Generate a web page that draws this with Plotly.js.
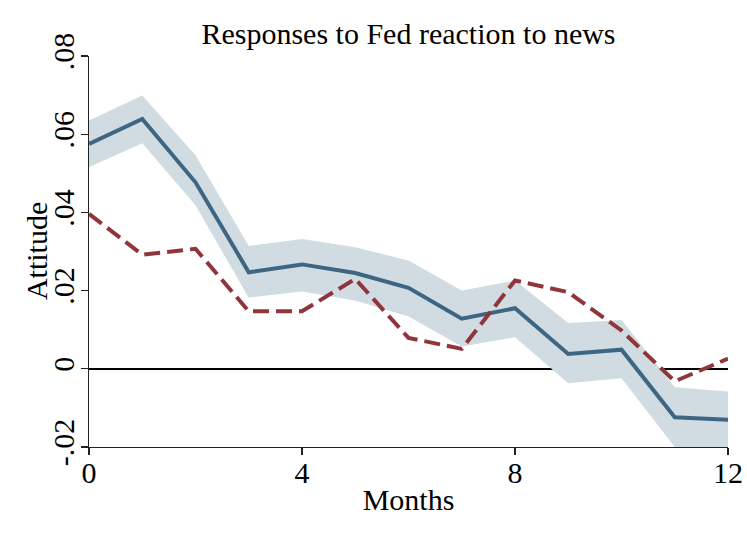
<!DOCTYPE html>
<html>
<head>
<meta charset="utf-8">
<script src="https://cdn.plot.ly/plotly-3.0.1.min.js"></script>
<style>html,body{margin:0;padding:0;background:#fff;}#chart{width:747px;height:544px;}</style>
</head>
<body>
<div id="chart"></div>
<script>
var months = [0,1,2,3,4,5,6,7,8,9,10,11,12];
var fedResponse = [0.0575,0.0639,0.0477,0.0247,0.0267,0.0245,0.0207,0.0128,0.0155,0.0038,0.0049,-0.0124,-0.0130];
var bandUpper = [0.0635,0.0699,0.0546,0.0314,0.0332,0.0311,0.0277,0.0200,0.0226,0.0117,0.0125,-0.0047,-0.0058];
var bandLower = [0.0516,0.0577,0.0418,0.0182,0.0198,0.0175,0.0134,0.0057,0.0081,-0.0037,-0.0024,-0.0200,-0.0202];
var otherResponse = [0.0396,0.0292,0.0307,0.0147,0.0147,0.0230,0.0079,0.0051,0.0226,0.0196,0.0098,-0.0032,0.0026];
var yTickVals = [-0.02,0,0.02,0.04,0.06,0.08];
var yTickText = ['-.02','0','.02','.04','.06','.08'];
var xTickVals = [0,4,8,12];

var font = 'Liberation Serif, Times New Roman, serif';
var fs = 30;
var traces = [
  {x: months, y: bandLower, mode:'lines', line:{width:0, color:'rgba(0,0,0,0)'}, hoverinfo:'skip', showlegend:false},
  {x: months, y: bandUpper, mode:'lines', line:{width:0, color:'rgba(0,0,0,0)'}, fill:'tonexty', fillcolor:'#D1DBE2', hoverinfo:'skip', showlegend:false},
  {x: months, y: fedResponse, mode:'lines', line:{width:4, color:'#3E6683'}, showlegend:false},
  {x: months, y: otherResponse, mode:'lines', line:{width:4, color:'#90353B', dash:'16px,7px'}, showlegend:false}
];
var layout = {
  width:747, height:544,
  margin:{l:88.5, r:18.7, t:55.7, b:97.3},
  paper_bgcolor:'#fff', plot_bgcolor:'#fff',
  font:{family:font, size:fs, color:'#000'},
  title:{text:'Responses to Fed reaction to news', font:{family:font, size:fs, color:'#000'}, x:0.5, xref:'paper', y:(544-33)/544, yref:'container', yanchor:'middle'},
  xaxis:{range:[0,12], tickvals:xTickVals, ticks:'outside', ticklen:7, tickwidth:1.2, tickcolor:'#222', showline:true, linecolor:'#222', linewidth:1.2, showgrid:false, zeroline:false, ticklabelstandoff:-8, tickfont:{family:font,size:fs,color:'#000'}, title:{text:'Months', font:{family:font,size:fs,color:'#000'}, standoff:0}, automargin:false},
  yaxis:{range:[-0.02,0.08], tickvals:yTickVals, ticktext:yTickText, tickangle:-90, ticks:'outside', ticklen:7, tickwidth:1.2, tickcolor:'#222', showline:true, linecolor:'#222', linewidth:1.2, showgrid:false, zeroline:true, zerolinecolor:'#000', zerolinewidth:1.5, ticklabelstandoff:-5, tickfont:{family:font,size:fs,color:'#000'}, automargin:false},
  annotations:[{text:'Attitude', xref:'paper', yref:'paper', x:(36-88.5)/639.8, y:0.5, xanchor:'center', yanchor:'middle', textangle:-90, showarrow:false, font:{family:font,size:fs,color:'#000'}}]
};
Plotly.newPlot('chart', traces, layout, {displayModeBar:false, staticPlot:true});
</script>
</body>
</html>
